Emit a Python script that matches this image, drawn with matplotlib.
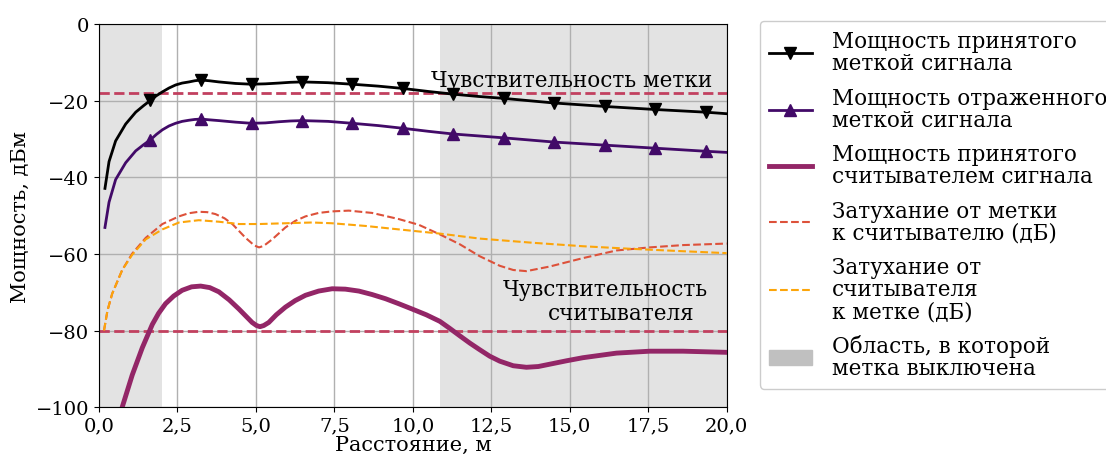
import matplotlib
matplotlib.use("Agg")
import matplotlib.pyplot as plt
from matplotlib.patches import Patch
from matplotlib.ticker import FuncFormatter

plt.rcParams['font.family'] = ['DejaVu Serif']
plt.rcParams['font.size'] = 14

# мощность принятого меткой и отраженного меткой сигнала, дБм
tag_x = [0.19, 0.32, 0.53, 0.85, 1.17, 1.42, 1.64, 1.83, 2.02, 2.23, 2.44, 2.65, 2.87, 3.05,
         3.25, 3.52, 3.82, 4.35, 4.86, 5.3, 5.73, 6.1, 6.46, 6.9, 7.3, 8.07, 8.9, 9.68,
         10.5, 11.29, 12.1, 12.9, 14.5, 16.11, 17.72, 19.33, 20.0]
tag_rx = [-42.9, -35.9, -30.5, -26.1, -23.0, -21.3, -19.9, -18.7, -17.7, -16.7, -15.9,
          -15.4, -15.1, -14.8, -14.6, -14.8, -15.1, -15.5, -15.7, -15.6, -15.4, -15.2,
          -15.1, -15.2, -15.3, -15.7, -16.2, -16.8, -17.6, -18.3, -18.9, -19.4, -20.6,
          -21.5, -22.3, -23.0, -23.4]
tag_refl = [-53.1, -46.5, -40.6, -36.2, -33.1, -31.5, -30.2, -28.8, -27.6, -26.6, -25.9,
            -25.4, -25.1, -24.9, -24.8, -25.0, -25.2, -25.6, -25.9, -25.8, -25.5, -25.3,
            -25.2, -25.3, -25.4, -25.9, -26.5, -27.2, -28.0, -28.7, -29.2, -29.7, -30.8,
            -31.6, -32.4, -33.2, -33.5]
marker_x = [1.64, 3.25, 4.86, 6.46, 8.07, 9.68, 11.29, 12.9, 14.5, 16.11, 17.72, 19.33]

# мощность принятого считывателем сигнала
reader_x = [0.66, 0.74, 1.06, 1.38, 1.70, 1.9, 2.12, 2.38, 2.65, 2.95, 3.24, 3.53, 3.82,
            4.15, 4.46, 4.7, 4.88, 5.02, 5.13, 5.25, 5.41, 5.65, 5.94, 6.25, 6.58, 7.0,
            7.43, 7.85, 8.28, 8.7, 9.13, 9.55, 9.98, 10.43, 10.86, 11.17, 11.5, 11.82,
            12.13, 12.45, 12.77, 13.2, 13.62, 14.0, 14.36, 14.9, 15.42, 16.49, 17.55,
            18.61, 20.0]
reader_rx = [-102.5, -100.0, -91.6, -84.5, -78.4, -75.5, -73.0, -71.0, -69.5, -68.6, -68.4,
             -68.8, -69.9, -72.0, -74.4, -76.4, -77.9, -78.7, -79.0, -78.7, -77.9, -75.9,
             -73.9, -72.2, -70.8, -69.7, -69.1, -69.2, -69.7, -70.6, -71.7, -73.0, -74.4,
             -75.9, -77.6, -79.4, -81.4, -83.3, -85.0, -86.7, -88.0, -89.2, -89.6, -89.4,
             -88.8, -87.9, -87.1, -85.9, -85.4, -85.4, -85.7]

# затухание от метки к считывателю, дБ
t2r_x = [0.16, 0.27, 0.42, 0.74, 1.06, 1.49, 2.02, 2.55, 2.85, 3.18, 3.45, 3.71, 4.0, 4.25,
         4.67, 4.95, 5.1, 5.25, 5.52, 5.94, 6.25, 6.58, 7.0, 7.43, 7.96, 8.7, 9.55, 10.19,
         10.86, 11.5, 12.13, 12.77, 13.2, 13.62, 14.36, 15.42, 16.49, 17.55, 18.61, 20.0]
t2r = [-80.0, -74.8, -70.4, -64.2, -59.9, -55.8, -52.2, -50.2, -49.4, -49.0, -49.1, -49.6,
       -50.7, -52.2, -55.8, -57.8, -58.3, -57.9, -56.2, -53.1, -51.4, -50.2, -49.3, -48.9,
       -48.7, -49.3, -50.9, -52.4, -54.9, -57.5, -60.6, -63.1, -64.2, -64.5, -63.3, -61.1,
       -59.1, -58.3, -57.7, -57.3]

# затухание от считывателя к метке, дБ
r2t_x = [0.16, 0.27, 0.42, 0.74, 1.06, 1.49, 2.02, 2.55, 3.18, 3.82, 4.46, 5.1, 5.94, 6.79,
         7.43, 8.49, 9.55, 10.86, 12.13, 13.83, 15.42, 17.02, 18.61, 20.0]
r2t = [-80.0, -74.8, -70.4, -64.2, -60.2, -56.2, -53.6, -51.8, -51.2, -51.6, -52.2, -52.2,
       -52.0, -51.8, -52.0, -52.7, -53.6, -54.7, -56.0, -57.1, -58.0, -58.7, -59.3, -59.8]

tag_sens = -18
reader_sens = -80
off_zones = [(0.0, 2.0), (10.86, 20.0)]

labels = ['Мощность принятого\nметкой сигнала',
          'Мощность отраженного\nметкой сигнала',
          'Мощность принятого\nсчитывателем сигнала',
          'Затухание от метки\nк считывателю (дБ)',
          'Затухание от\nсчитывателя\nк метке (дБ)',
          'Область, в которой\nметка выключена']

fig = plt.figure(figsize=(11.06, 4.56), dpi=100)
ax = fig.add_axes([0.0895, 0.105, 0.5675, 0.84])

for a, b in off_zones:
    ax.axvspan(a, b, color='#e3e3e3', lw=0, zorder=0)
ax.grid(True, color='#b0b0b0', lw=1, zorder=1)
ax.set_axisbelow(True)

ax.axhline(tag_sens, color='#c2405f', lw=2, ls='--', zorder=2)
ax.axhline(reader_sens, color='#c2405f', lw=2, ls='--', zorder=2)

marker_idx = [tag_x.index(m) for m in marker_x]
l1, = ax.plot(tag_x, tag_rx, color='black', lw=2, marker='v', ms=9,
              markevery=marker_idx, solid_joinstyle='round', zorder=4)
l2, = ax.plot(tag_x, tag_refl, color='#420a68', lw=2, marker='^', ms=9,
              markevery=marker_idx, solid_joinstyle='round', zorder=4)
l3, = ax.plot(reader_x, reader_rx, color='#932667', lw=3.5, solid_joinstyle='round',
              zorder=4)
l4, = ax.plot(t2r_x, t2r, color='#dd513a', lw=1.5, ls='--', zorder=3)
l5, = ax.plot(r2t_x, r2t, color='#fca50a', lw=1.5, ls='--', zorder=3)

ax.text(19.55, -16.2, 'Чувствительность метки', ha='right', va='baseline', fontsize=15.5)
ax.text(19.4, -70.8, 'Чувствительность', ha='right', va='baseline', fontsize=15.5)
ax.text(18.98, -77.0, 'считывателя', ha='right', va='baseline', fontsize=15.5)

ax.set_xlim(0, 20)
ax.set_ylim(-100, 0)
ax.set_xticks([0, 2.5, 5, 7.5, 10, 12.5, 15, 17.5, 20])
ax.set_yticks([0, -20, -40, -60, -80, -100])
ax.xaxis.set_major_formatter(FuncFormatter(lambda v, p: f'{v:.1f}'.replace('.', ',')))
ax.tick_params(labelsize=14)
ax.set_xlabel('Расстояние, м', fontsize=15, labelpad=0)
ax.set_ylabel('Мощность, дБм', fontsize=15)

handles = [l1, l2, l3, l4, l5, Patch(color='#c0c0c0')]
leg = ax.legend(handles, labels, loc='upper left', bbox_to_anchor=(1.0525, 1.008),
                borderaxespad=0, fontsize=15.5, handlelength=2.0, handletextpad=0.95,
                labelspacing=0.58, borderpad=0.42, framealpha=1, edgecolor='#cccccc')
for t in leg.get_texts():
    t.set_linespacing(1.0)

fig.savefig('out.png', dpi=100)
